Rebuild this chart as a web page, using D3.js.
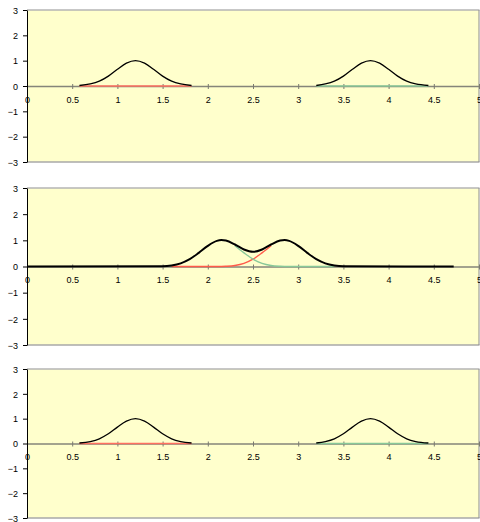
<!DOCTYPE html>
<html lang="en">
<head>
<meta charset="UTF-8">
<title>Gaussian peaks</title>
<script src="https://cdnjs.cloudflare.com/ajax/libs/d3/7.8.5/d3.min.js"></script>
<style>
  body { margin: 0; background: #fff; }
  svg { display: block; }
  .tick text { font: 9px "Liberation Sans", Arial, sans-serif; fill: #000; }
</style>
</head>
<body>
<script>
// tick values
var xTicks = [0, 0.5, 1, 1.5, 2, 2.5, 3, 3.5, 4, 4.5, 5];
var yTicks = [-3, -2, -1, 0, 1, 2, 3];

// separated peaks (top and bottom charts)
var sumAx = [0.58, 0.7, 0.8, 0.9, 1.0, 1.1, 1.2, 1.3, 1.4, 1.5, 1.6, 1.7, 1.82];
var sumAy = [0.02, 0.08, 0.19, 0.39, 0.66, 0.90, 1.00, 0.90, 0.66, 0.39, 0.19, 0.08, 0.02];
var sumBx = [3.2, 3.3, 3.4, 3.5, 3.6, 3.7, 3.8, 3.9, 4.0, 4.1, 4.2, 4.3, 4.44];
var sumBy = [0.02, 0.08, 0.19, 0.39, 0.66, 0.90, 1.00, 0.90, 0.66, 0.39, 0.19, 0.08, 0.02];
var redAx = [0.58, 1.2, 1.82];
var redAy = [0, 0, 0];
var greenAx = [3.2, 3.8, 4.44];
var greenAy = [0, 0, 0];

// overlapping peaks (middle chart)
var midX = [0, 1.5, 1.6, 1.7, 1.8, 1.9, 2.0, 2.1, 2.15, 2.2, 2.3, 2.4, 2.5, 2.6, 2.7, 2.8, 2.85, 2.9, 3.0, 3.1, 3.2, 3.3, 3.4, 3.5, 4.72];
var midY = [0, 0.01, 0.04, 0.12, 0.28, 0.52, 0.79, 0.98, 1.01, 0.99, 0.84, 0.65, 0.56, 0.65, 0.84, 0.99, 1.01, 0.98, 0.79, 0.52, 0.28, 0.12, 0.04, 0.01, 0];
var redMidX = [1.6, 1.7, 1.8, 1.9, 2.0, 2.1, 2.2, 2.3, 2.4, 2.5, 2.6, 2.7];
var redMidY = [0, 0, 0, 0, 0, 0, 0.01, 0.04, 0.12, 0.28, 0.52, 0.79];
var greenMidX = [2.3, 2.4, 2.5, 2.6, 2.7, 2.8, 2.9, 3.0, 3.1, 3.2, 3.3, 3.4];
var greenMidY = [0.79, 0.52, 0.28, 0.12, 0.04, 0.01, 0, 0, 0, 0, 0, 0];

function pts(xs, ys) { return xs.map(function(x, i) { return [x, ys[i]]; }); }

var W = 480, H = 522, left = 27, right = 479;

var panels = [
  { top: 10, bottom: 162, black: 1.3,
    series: [[pts(redAx, redAy), "#ff7060"], [pts(greenAx, greenAy), "#88c898"],
             [pts(sumAx, sumAy), "#000"], [pts(sumBx, sumBy), "#000"]] },
  { top: 188, bottom: 345, black: 2,
    series: [[pts(redMidX, redMidY), "#ff5a4a"], [pts(greenMidX, greenMidY), "#88c898"],
             [pts(midX, midY), "#000"]] },
  { top: 369, bottom: 518, black: 1.3,
    series: [[pts(redAx, redAy), "#ff7060"], [pts(greenAx, greenAy), "#88c898"],
             [pts(sumAx, sumAy), "#000"], [pts(sumBx, sumBy), "#000"]] }
];

var svg = d3.select("body").append("svg")
    .attr("width", W)
    .attr("height", H);

var x = d3.scaleLinear().domain([0, 5]).range([left, right]);

panels.forEach(function(p) {
  var y = d3.scaleLinear().domain([-3, 3]).range([p.bottom, p.top]);
  var g = svg.append("g");

  // plot area
  g.append("rect")
      .attr("x", left).attr("y", p.top)
      .attr("width", right - left).attr("height", p.bottom - p.top)
      .attr("fill", "#ffffcc");
  g.append("line").attr("x1", left).attr("x2", right + 0.5).attr("y1", p.top).attr("y2", p.top)
      .attr("stroke", "#b4b4b4").attr("stroke-width", 1.5);
  g.append("line").attr("x1", left).attr("x2", right + 0.5).attr("y1", p.bottom).attr("y2", p.bottom)
      .attr("stroke", "#a8a8a8").attr("stroke-width", 1.5);
  g.append("line").attr("x1", right).attr("x2", right).attr("y1", p.top).attr("y2", p.bottom)
      .attr("stroke", "#8c8c8c").attr("stroke-width", 1);

  // x axis on the zero line
  var xa = g.append("g")
      .attr("transform", "translate(0," + y(0) + ")")
      .call(d3.axisBottom(x).tickValues(xTicks).tickFormat(d3.format("")).tickSize(3).tickSizeOuter(0));
  xa.select(".domain").attr("stroke", "#85857a").attr("stroke-width", 1.6);
  xa.selectAll(".tick line").attr("y1", -2).attr("stroke", "#7a7a70");
  xa.selectAll(".tick text").attr("y", 10.5);

  // curves
  var line = d3.line()
      .x(function(d) { return x(d[0]); })
      .y(function(d) { return y(d[1]); })
      .curve(d3.curveMonotoneX);
  p.series.forEach(function(s) {
    g.append("path")
        .attr("d", line(s[0]))
        .attr("fill", "none")
        .attr("stroke", s[1])
        .attr("stroke-width", s[1] === "#000" ? p.black : 1.4);
  });

  // y axis
  var ya = g.append("g")
      .attr("transform", "translate(" + left + ",0)")
      .call(d3.axisLeft(y).tickValues(yTicks).tickFormat(d3.format("d")).tickSize(4).tickSizeOuter(0).tickPadding(5));
  ya.select(".domain").attr("stroke", "#000");
  ya.selectAll(".tick text").attr("dy", "0.36em");
});
</script>
</body>
</html>
